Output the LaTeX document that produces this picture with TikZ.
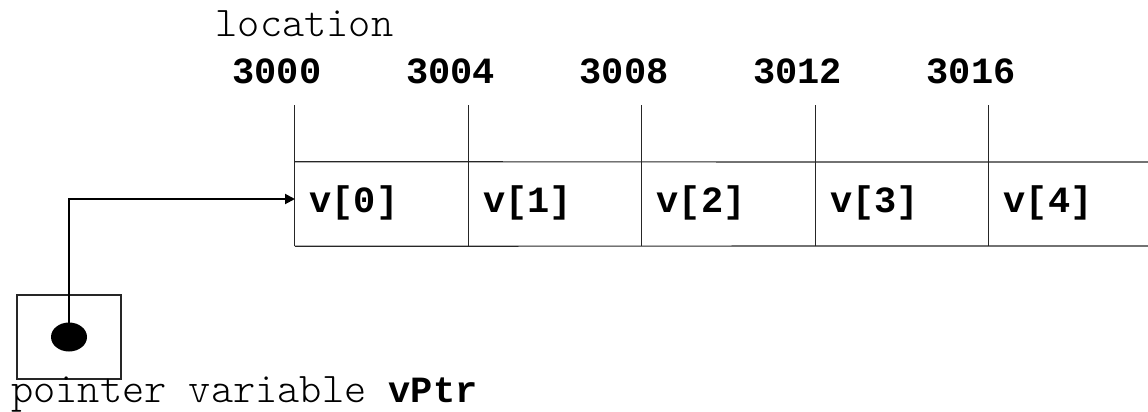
\documentclass[tikz,border=0pt]{standalone}
\usepackage{fontspec}
\newfontfamily\courfont{Latin Modern Mono Light}
\newfontfamily\courbold{Liberation Mono Bold}
\usetikzlibrary{arrows.meta,shapes.geometric}
\begin{document}
\begin{tikzpicture}[x=1pt,y=-1pt,
  txt/.style={font=\fontsize{42.3}{45}\selectfont\courfont, inner sep=0pt, anchor=base},
  btxt/.style={txt, font=\fontsize{37}{40}\selectfont\courbold},
  grid/.style={line width=1.2pt, draw=black!85},
  cell/.style={inner sep=0pt, minimum width=173.5pt, minimum height=84pt},
  ptr/.style={line width=2pt, -{Triangle[length=10pt,width=10pt]}}]
\useasboundingbox (0,0) rectangle (1148,412);
% header
\node[txt] (loc) at (304.5,37) {location};
\foreach \i/\lab in {0/3000,1/3004,2/3008,3/3012,4/3016}
  \node[btxt] (a\i) at ({277+173.5*\i},83) {\lab};
% cells
\foreach \i in {0,...,4}
  \node[cell] (c\i) at ({295+173.5*\i+86.75},204) {};
\foreach \i in {0,...,4}
  \node[btxt] (t\i) at ({354+173.5*\i},212) {v[\i]};
% grid lines
\draw[grid] (c0.north west) -- (1148,162);
\draw[grid] (c0.south west) -- (1148,246);
\foreach \i in {0,...,4}
  \draw[grid] (c\i.south west) -- ++(0,-141);
% pointer variable
\node[draw=black!85, line width=1.2pt, minimum width=104pt, minimum height=84pt, inner sep=0pt] (pbox) at (69,337) {};
\node[ellipse, fill=black, minimum width=36pt, minimum height=29pt, inner sep=0pt] (dot) at (69,337) {};
\coordinate (tip) at (295,199);
\draw[ptr] (dot.center) |- (tip);
\node[txt, anchor=base west] (plab) at (11,402) {pointer variable {\fontsize{37}{40}\selectfont\courbold vPtr}};
\end{tikzpicture}
\end{document}
